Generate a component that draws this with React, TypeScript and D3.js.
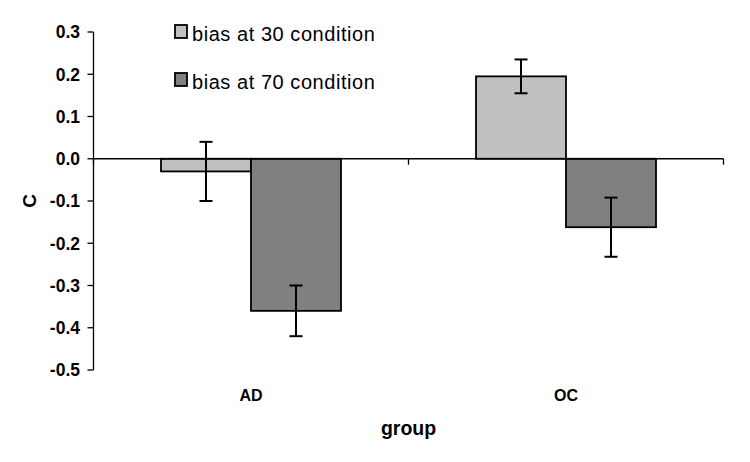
import React from "react";
import * as d3 from "d3";

const groups = ["AD", "OC"];
const seriesNames = ["bias at 30 condition", "bias at 70 condition"];
const bias30 = [-0.03, 0.195];
const err30 = [0.07, 0.04];
const bias70 = [-0.36, -0.162];
const err70 = [0.06, 0.07];
const yTicks = [0.3, 0.2, 0.1, 0.0, -0.1, -0.2, -0.3, -0.4, -0.5];
const colors = ["#C0C0C0", "#808080"];

const W = 750;
const H = 462;
const left = 93.5;
const right = 723.5;
const top = 32;
const bottom = 370;
const font = "'Liberation Sans', Arial, Helvetica, sans-serif";

export default function App() {
  const x = d3.scaleBand<string>().domain(groups).range([left, right]).padding(0);
  const sub = d3
    .scaleBand<string>()
    .domain(seriesNames)
    .range([0, x.bandwidth()])
    .paddingInner(0)
    .paddingOuter(0.75);
  const y = d3.scaleLinear().domain([-0.5, 0.3]).range([bottom, top]);
  const y0 = y(0);

  const series = [
    { name: seriesNames[0], vals: bias30, errs: err30, color: colors[0] },
    { name: seriesNames[1], vals: bias70, errs: err70, color: colors[1] },
  ];

  const boundaries = [left, ...groups.map((g) => (x(g) as number) + x.bandwidth())];

  return (
    <svg
      width={W}
      height={H}
      style={{ position: "absolute", left: 0, top: 0, background: "#fff" }}
      fontFamily={font}
    >
      <rect x={0} y={0} width={W} height={H} fill="#fff" />
      {/* bars */}
      {series.map((s) =>
        groups.map((g, i) => {
          const bx = (x(g) as number) + (sub(s.name) as number);
          const v = s.vals[i];
          return (
            <rect
              key={s.name + g}
              x={bx}
              y={Math.min(y(v), y0)}
              width={sub.bandwidth()}
              height={Math.abs(y(v) - y0)}
              fill={s.color}
              stroke="#000"
              strokeWidth={1.8}
            />
          );
        })
      )}
      {/* y axis */}
      <line x1={left} x2={left} y1={top} y2={bottom} stroke="#000" strokeWidth={1.3} />
      {yTicks.map((t) => (
        <g key={t}>
          <line x1={left - 6} x2={left} y1={y(t)} y2={y(t)} stroke="#000" strokeWidth={1.3} />
          <text
            x={80}
            y={y(t)}
            dy="0.36em"
            textAnchor="end"
            fontSize={17.5}
            fontWeight="bold"
            fill="#000"
          >
            {t.toFixed(1)}
          </text>
        </g>
      ))}
      {/* zero (category) axis */}
      <line x1={left} x2={right} y1={y0} y2={y0} stroke="#000" strokeWidth={1.3} />
      {boundaries.map((b, i) => (
        <line key={i} x1={b} x2={b} y1={y0} y2={y0 + 6} stroke="#000" strokeWidth={1.3} />
      ))}
      {/* error bars */}
      {series.map((s) =>
        groups.map((g, i) => {
          const cx = (x(g) as number) + (sub(s.name) as number) + sub.bandwidth() / 2;
          const v = s.vals[i];
          const e = s.errs[i];
          const yt = y(v + e);
          const yb = y(v - e);
          return (
            <g key={"e" + s.name + g} stroke="#000" strokeWidth={2}>
              <line x1={cx} x2={cx} y1={yt} y2={yb} />
              <line x1={cx - 6.5} x2={cx + 6.5} y1={yt} y2={yt} />
              <line x1={cx - 6.5} x2={cx + 6.5} y1={yb} y2={yb} />
            </g>
          );
        })
      )}
      {/* category labels */}
      {groups.map((g) => (
        <text
          key={g}
          x={(x(g) as number) + x.bandwidth() / 2}
          y={401}
          textAnchor="middle"
          fontSize={16}
          fontWeight="bold"
          fill="#000"
        >
          {g}
        </text>
      ))}
      <text
        x={(left + right) / 2}
        y={435}
        textAnchor="middle"
        fontSize={19.5}
        fontWeight="bold"
        fill="#000"
      >
        group
      </text>
      <text
        transform={`translate(36,${(top + bottom) / 2}) rotate(-90)`}
        textAnchor="middle"
        fontSize={19}
        fontWeight="bold"
        fill="#000"
      >
        C
      </text>
      {/* legend */}
      {series.map((s, i) => (
        <g key={"l" + s.name} transform={`translate(175,${25 + i * 48})`}>
          <rect x={0} y={0} width={12} height={13} fill={s.color} stroke="#000" strokeWidth={1.8} />
          <text x={17} y={16} fontSize={20} letterSpacing={0.55} fill="#000">
            {s.name}
          </text>
        </g>
      ))}
    </svg>
  );
}
